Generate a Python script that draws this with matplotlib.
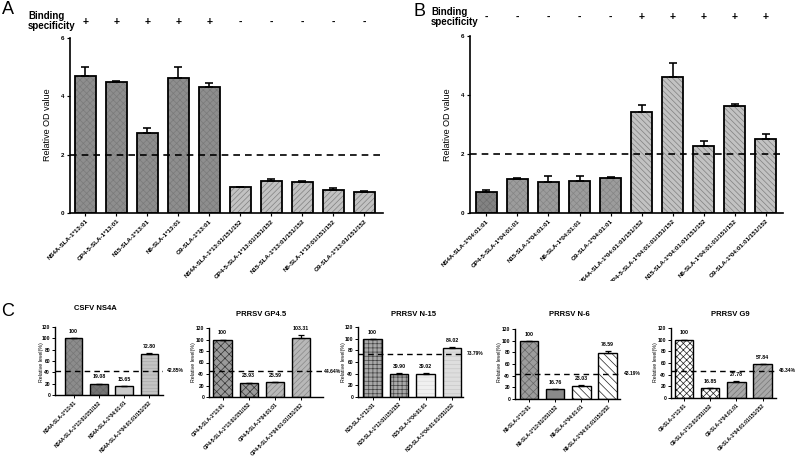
import numpy as np
import matplotlib.pyplot as plt
from matplotlib.transforms import Bbox

plt.rcParams['font.family'] = ['Liberation Sans', 'DejaVu Sans']
plt.rcParams['hatch.linewidth'] = 0.5

W, H = 800, 462

# panel A: SLA-1*13:01 and SLA-1*13:01/151/152 complexes
a_labels = ['NS4A-SLA-1*13:01', 'GP4-5-SLA-1*13:01', 'N15-SLA-1*13:01', 'N6-SLA-1*13:01',
            'G9-SLA-1*13:01', 'NS4A-SLA-1*13:01/151/152', 'GP4-5-SLA-1*13:01/151/152',
            'N15-SLA-1*13:01/151/152', 'N6-SLA-1*13:01/151/152', 'G9-SLA-1*13:01/151/152']
a_values = [4.70, 4.50, 2.74, 4.64, 4.32, 0.89, 1.09, 1.07, 0.79, 0.73]
a_errors = [0.32, 0.03, 0.17, 0.37, 0.14, 0.01, 0.07, 0.03, 0.06, 0.02]
a_binding = ['+', '+', '+', '+', '+', '-', '-', '-', '-', '-']

# panel B: SLA-1*04:01:01 and SLA-1*04:01:01/151/152 complexes
b_labels = ['NS4A-SLA-1*04:01:01', 'GP4-5-SLA-1*04:01:01', 'N15-SLA-1*04:01:01', 'N6-SLA-1*04:01:01',
            'G9-SLA-1*04:01:01', 'NS4A-SLA-1*04:01:01/151/152', 'GP4-5-SLA-1*04:01:01/151/152',
            'N15-SLA-1*04:01:01/151/152', 'N6-SLA-1*04:01:01/151/152', 'G9-SLA-1*04:01:01/151/152']
b_values = [0.72, 1.15, 1.06, 1.08, 1.19, 3.42, 4.61, 2.27, 3.63, 2.50]
b_errors = [0.05, 0.04, 0.19, 0.17, 0.02, 0.24, 0.49, 0.17, 0.05, 0.17]
b_binding = ['-', '-', '-', '-', '-', '+', '+', '+', '+', '+']

threshold_ab = 2

# panel C: relative levels
c_titles = ['CSFV NS4A', 'PRRSV GP4.5', 'PRRSV N-15', 'PRRSV N-6', 'PRRSV G9']
c_peptides = ['NS4A', 'GP4-5', 'N15', 'N6', 'G9']
c_alleles = ['SLA-1*13:01', 'SLA-1*13:01/151/152', 'SLA-1*04:01:01', 'SLA-1*04:01:01/151/152']
c_values = [[100, 19.08, 15.65, 72.80],
            [100, 23.93, 25.59, 103.31],
            [100, 39.90, 39.02, 84.02],
            [100, 16.76, 23.03, 78.59],
            [100, 16.85, 27.78, 57.84]]
c_errors = [[0, 1.0, 0.5, 0.8],
            [0, 1.0, 0.5, 4.0],
            [0, 1.5, 1.5, 1.5],
            [0, 0.5, 1.5, 3.0],
            [0, 0.5, 1.0, 1.0]]
c_thresholds = [42.85, 44.64, 73.79, 43.19, 46.34]


def box(x0, y0, x1, y1):
    # pixel box (top-left origin) -> figure fraction
    return [x0 / W, 1 - y1 / H, (x1 - x0) / W, (y1 - y0) / H]


def draw_bars(ax, xs, vals, errs, width, styles, lw=1.3, cap=3):
    for x, v, (face, hatch, hcol) in zip(xs, vals, styles):
        ax.bar(x, v, width, color=face, edgecolor=hcol, hatch=hatch, linewidth=0, zorder=2)
        ax.bar(x, v, width, fill=False, edgecolor='black', linewidth=lw, zorder=3)
    ax.errorbar(xs, vals, yerr=[np.zeros(len(errs)), errs], fmt='none', ecolor='black',
                elinewidth=lw * 0.9, capsize=cap, capthick=lw * 0.9, zorder=4)


def style_axes(ax, lw, fs):
    for s in ['top', 'right']:
        ax.spines[s].set_visible(False)
    ax.spines['left'].set_linewidth(lw)
    ax.spines['bottom'].set_linewidth(lw)
    ax.tick_params(axis='both', width=lw * 0.7, length=2.5, pad=1.5, labelsize=fs)
    for t in ax.get_yticklabels():
        t.set_fontweight('bold')


fig = plt.figure(figsize=(W / 100, H / 100), dpi=100)
clip = Bbox.from_extents(0, H - 281, W, H)

band = ('#8e8e8e', 'xxxxx', '#7a7a7a')
diag_a = ('#c2c2c2', '//////', '#808080')
band_b = ('#9c9c9c', 'xxxxx', '#858585')
diag_b = ('#c2c2c2', '\\\\\\\\\\\\', '#808080')

panels = [
    ('A', a_labels, a_values, a_errors, a_binding, (70, 38, 383, 213), -0.5, 9.6,
     [band] * 5 + [diag_a] * 5, (8, 9), (28, 21), 22, 47),
    ('B', b_labels, b_values, b_errors, b_binding, (470, 36, 783, 213), -0.53, 9.56,
     [('#838383', 'xxxxx', '#6e6e6e')] + [band_b] * 4 + [diag_b] * 5, (419, 11), (431, 17), 17, 447),
]

for (letter, labels, vals, errs, binding, pb, xl, xr, styles,
     lpos, bpos, sign_y, ylab_x) in panels:
    ax = fig.add_axes(box(*pb))
    xs = np.arange(len(vals))
    draw_bars(ax, xs, vals, errs, 0.68, styles)
    ax.axhline(threshold_ab, color='black', ls='--', lw=1.2, dashes=(4, 3), zorder=5)
    ax.set_xlim(xl, xr)
    ax.set_ylim(0, 6)
    ax.set_yticks([0, 2, 4, 6])
    ax.set_xticks(xs)
    ax.set_xticklabels(labels, rotation=45, ha='right', rotation_mode='anchor',
                       fontsize=6.4, fontweight='bold')
    style_axes(ax, 1.2, 4.5)
    for t in ax.get_xticklabels():
        t.set_clip_box(clip)
        t.set_clip_on(True)
    # binding specificity row
    x0 = pb[0] + (0 - xl) / (xr - xl) * (pb[2] - pb[0])
    step = (pb[2] - pb[0]) / (xr - xl)
    for i, s in enumerate(binding):
        fig.text((x0 + i * step) / W, 1 - sign_y / H, s, ha='center', va='center',
                 fontsize=7.5, fontweight='bold')
    fig.text(bpos[0] / W, 1 - bpos[1] / H, 'Binding\nspecificity', ha='left', va='center',
             fontsize=7, fontweight='bold', linespacing=1.1)
    fig.text(lpos[0] / W, 1 - lpos[1] / H, letter, ha='center', va='center', fontsize=13)
    fig.text(ylab_x / W, 1 - 125 / H, 'Relative OD value', rotation=90, ha='center',
             va='center', fontsize=6.5)

# panel C layout: spine x, first centre, spacing, right end, y of 0, y of 120,
# title pos, ylabel x, threshold text offset (axes fraction)
c_layout = [
    (55, 73.5, 25.3, 163, 395, 327, (95, 309), 41, 1.04),
    (209, 222.5, 26.2, 323, 397, 328, (261, 315), 194, 1.005),
    (358, 372.5, 26.5, 463, 397, 327, (414, 315), 343, 1.04),
    (515, 529, 26.2, 620, 399, 329, (569, 314), 500, 1.04),
    (671, 684, 26.2, 776, 398, 328, (730, 314), 655, 1.03),
]

c_styles = [
    [('#8c8c8c', 'xxxxx', '#777777'), ('#747474', 'xxxxx', '#666666'),
     ('#c9c9c9', None, 'black'), ('#c4c4c4', '-----', '#aaaaaa')],
    [('#9a9a9a', 'xxxx', '#333333'), ('#9a9a9a', 'xxxx', '#333333'),
     ('#b8b8b8', '//////', '#888888'), ('#b8b8b8', '//////', '#888888')],
    [('#a8a8a8', '++++', '#444444'), ('#a8a8a8', '++++', '#444444'),
     ('#f0f0f0', '----', '#dddddd'), ('#dedede', '----', '#c8c8c8')],
    [('#9c9c9c', 'xxxx', '#666666'), ('#8a8a8a', None, 'black'),
     ('white', '\\\\\\\\', '#222222'), ('white', '\\\\\\\\', '#222222')],
    [('white', 'xxxxx', '#222222'), ('white', 'xxxxx', '#222222'),
     ('#a8a8a8', '//////', '#777777'), ('#a8a8a8', '//////', '#777777')],
]

for k in range(len(c_titles)):
    sx, c0, sp, rx, y0, y120, tpos, ylx, toff = c_layout[k]
    ax = fig.add_axes(box(sx, y120, rx, y0))
    xs = np.arange(len(c_values[k]))
    draw_bars(ax, xs, c_values[k], c_errors[k], 0.7, c_styles[k], lw=1.0, cap=2)
    xl = -(c0 - sx) / sp
    xr = (rx - c0) / sp
    ax.set_xlim(xl, xr)
    ax.set_ylim(0, 120)
    ax.set_yticks(np.arange(0, 121, 20))
    ax.axhline(c_thresholds[k], color='black', ls='--', lw=1.0, dashes=(4, 3), zorder=5)
    ax.text(toff, c_thresholds[k], '%.2f%%' % c_thresholds[k], transform=ax.get_yaxis_transform(),
            ha='left', va='center', fontsize=3.6, fontweight='bold')
    for x, v, e in zip(xs, c_values[k], c_errors[k]):
        txt = '100' if v == 100 else '%.2f' % v
        ax.annotate(txt, (x, v + e), xytext=(0, 3), textcoords='offset points', ha='center',
                    va='bottom', fontsize=3.8, fontweight='bold')
    ax.set_xticks(xs)
    ax.set_xticklabels([c_peptides[k] + '-' + a for a in c_alleles], rotation=45, ha='right',
                       rotation_mode='anchor', fontsize=4, fontweight='bold')
    style_axes(ax, 1.0, 3.6)
    ax.tick_params(length=2)
    fig.text(tpos[0] / W, 1 - tpos[1] / H, c_titles[k], ha='center', va='center',
             fontsize=5.5, fontweight='bold')
    fig.text(ylx / W, 1 - 362 / H, 'Relative level(%)', rotation=90, ha='center', va='center',
             fontsize=3.8)

fig.text(8 / W, 1 - 311 / H, 'C', ha='center', va='center', fontsize=13)

fig.savefig('out.png', dpi=100)
